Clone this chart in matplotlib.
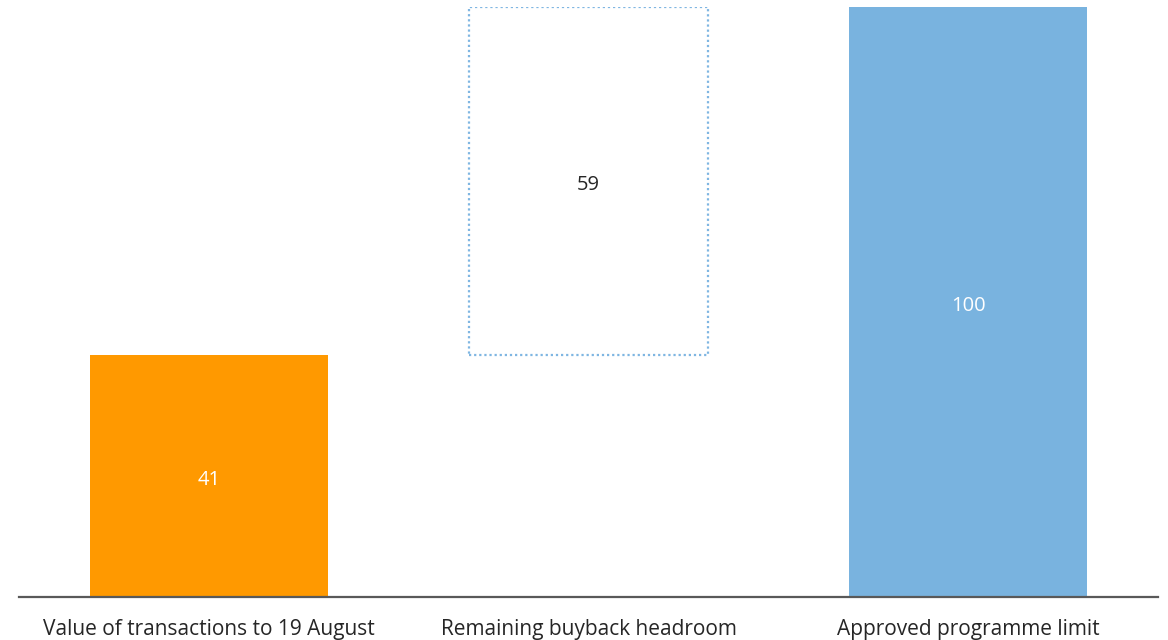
import matplotlib
matplotlib.use("Agg")
import matplotlib.pyplot as plt

categories = ["Value of transactions to 19 August", "Remaining buyback headroom", "Approved programme limit"]
values = [41, 59, 100]
bases = [0, 41, 0]
label_colors = ["white", "#262626", "white"]

plt.rcParams["font.family"] = ["Open Sans", "DejaVu Sans"]

fig = plt.figure(figsize=(11.68, 6.4), dpi=100)
ax = fig.add_axes([19 / 1168, 43 / 640, 1139 / 1168, 590 / 640])

x = range(len(categories))
width = 0.627

# executed so far
ax.bar(0, values[0], bottom=bases[0], width=width, color="#FF9900")
# remaining headroom, drawn as an outline only
ax.bar(1, values[1], bottom=bases[1], width=width, facecolor="none",
       edgecolor="#7FB6E2", linestyle=(0, (1, 1.3)), linewidth=1.6)
# full programme
ax.bar(2, values[2], bottom=bases[2], width=width, color="#79B3DF")

for i, (v, b, c) in enumerate(zip(values, bases, label_colors)):
    ax.annotate(f"{v}", (i, b + v / 2), xytext=(0, -3), textcoords="offset points",
                ha="center", va="center", fontsize=14.5, color=c)

ax.set_xlim(-0.5, 2.5)
ax.set_ylim(0, 100)
ax.set_xticks(list(x))
ax.set_xticklabels(categories, fontsize=15, color="#262626")
ax.tick_params(axis="x", length=0, pad=15.5)
ax.set_yticks([])
for s in ["top", "left", "right"]:
    ax.spines[s].set_visible(False)
ax.spines["bottom"].set_color("#595959")
ax.spines["bottom"].set_linewidth(1.6)

fig.savefig("out.png", dpi=100)
